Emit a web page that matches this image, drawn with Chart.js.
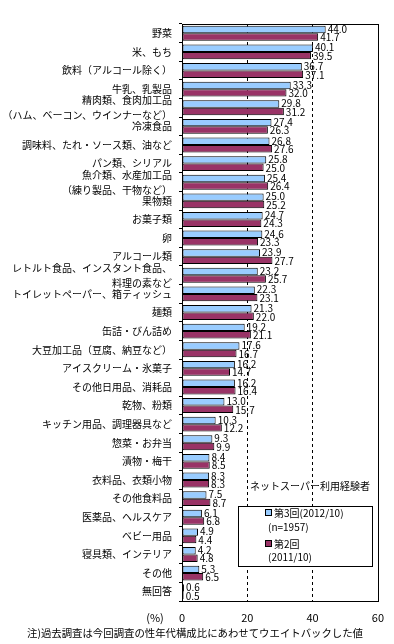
<!DOCTYPE html>
<html><head><meta charset="utf-8">
<script src="https://cdn.jsdelivr.net/npm/chart.js@4/dist/chart.umd.min.js"></script>
<style>html,body{margin:0;padding:0;background:#fff;}canvas{display:block;}</style>
</head><body>
<canvas id="c" width="394" height="644"></canvas>
<script>
const categories = [
  ['野菜'], ['米、もち'], ['飲料（アルコール除く）'], ['牛乳、乳製品'],
  ['精肉類、食肉加工品', '（ハム、ベーコン、ウインナーなど）'], ['冷凍食品'],
  ['調味料、たれ・ソース類、油など'], ['パン類、シリアル'],
  ['魚介類、水産加工品', '（練り製品、干物など）'], ['果物類'], ['お菓子類'], ['卵'],
  ['アルコール類'], ['レトルト食品、インスタント食品、', '料理の素など'],
  ['トイレットペーパー、箱ティッシュ'], ['麺類'], ['缶詰・びん詰め'],
  ['大豆加工品（豆腐、納豆など）'], ['アイスクリーム・氷菓子'], ['その他日用品、消耗品'],
  ['乾物、粉類'], ['キッチン用品、調理器具など'], ['惣菜・お弁当'], ['漬物・梅干'],
  ['衣料品、衣類小物'], ['その他食料品'], ['医薬品、ヘルスケア'], ['ベビー用品'],
  ['寝具類、インテリア'], ['その他'], ['無回答']
];
const series3 = [44.0, 40.1, 36.7, 33.3, 29.8, 27.4, 26.8, 25.8, 25.4, 25.0, 24.7, 24.6, 23.9, 23.2, 22.3, 21.3, 19.2, 17.6, 16.2, 16.2, 13.0, 10.3, 9.3, 8.4, 8.3, 7.5, 6.1, 4.9, 4.2, 5.3, 0.6];
const series2 = [41.7, 39.5, 37.1, 32.0, 31.2, 26.3, 27.6, 25.0, 26.4, 25.2, 24.3, 23.3, 27.7, 25.7, 23.1, 22.0, 21.1, 16.7, 14.7, 16.4, 15.7, 12.2, 9.9, 8.5, 8.3, 8.7, 6.8, 4.4, 4.8, 6.5, 0.5];
const seriesNames = ['第3回(2012/10)', '第2回(2011/10)'];
const legendLines = [['第3回(2012/10)', '(n=1957)'], ['第2回', '(2011/10)']];
const xTicks = [0, 20, 40, 60];
const legendTitle = 'ネットスーパー利用経験者';
const unitLabel = '(%)';
const footnote = '注)過去調査は今回調査の性年代構成比にあわせてウエイトバックした値';

const FONT = "'Noto Sans CJK JP', 'Noto Sans', sans-serif";
const BLUE = '#99CCFF', RED = '#993366';

const decor = {
  id: 'decor',
  afterDatasetsDraw(chart) {
    const ctx = chart.ctx;
    ctx.save();
    ctx.font = '10px ' + FONT;
    ctx.fillStyle = '#000';
    ctx.textAlign = 'left';
    ctx.textBaseline = 'middle';
    chart.data.datasets.forEach((ds, di) => {
      const meta = chart.getDatasetMeta(di);
      meta.data.forEach((el, i) => {
        ctx.fillText(ds.data[i].toFixed(1), el.x + 2, el.y + (di === 0 ? -0.5 : 0.5));
      });
    });
    const a = chart.chartArea;
    ctx.strokeStyle = '#000';
    ctx.lineWidth = 1;
    ctx.strokeRect(Math.round(a.left) + 0.5, Math.round(a.top) + 0.5, Math.round(a.right - a.left), Math.round(a.bottom - a.top));
    // legend title
    ctx.fillText(legendTitle, 250, 486);
    // legend box
    ctx.fillStyle = '#fff';
    ctx.fillRect(238.5, 506.5, 134, 60);
    ctx.strokeRect(238.5, 506.5, 134, 60);
    const colors = [BLUE, RED];
    const ys = [[513, 527], [544, 557]];
    legendLines.forEach((lines, k) => {
      ctx.fillStyle = colors[k];
      ctx.fillRect(265.5, ys[k][0] - 3.5, 6, 6);
      ctx.strokeStyle = '#000';
      ctx.strokeRect(265.5, ys[k][0] - 3.5, 6, 6);
      ctx.fillStyle = '#000';
      ctx.fillText(lines[0], 274, ys[k][0]);
      ctx.fillText(lines[1], 268, ys[k][1]);
    });
    // unit and footnote
    ctx.font = '11px ' + FONT;
    ctx.textAlign = 'center';
    ctx.fillText(unitLabel, 155, 618);
    ctx.font = '10.4px ' + FONT;
    ctx.textAlign = 'left';
    ctx.fillText(footnote, 27, 633);
    ctx.restore();
  }
};

new Chart(document.getElementById('c'), {
  type: 'bar',
  data: {
    labels: categories,
    datasets: [
      { label: seriesNames[0], data: series3, backgroundColor: BLUE, borderColor: '#000', borderWidth: 1, borderSkipped: false },
      { label: seriesNames[1], data: series2, backgroundColor: RED, borderColor: '#000', borderWidth: 1, borderSkipped: false }
    ]
  },
  options: {
    indexAxis: 'y',
    responsive: false,
    animation: false,
    devicePixelRatio: 1,
    layout: { padding: { left: 0, top: 24, right: 16, bottom: 17 } },
    datasets: { bar: { categoryPercentage: 0.8, barPercentage: 1.0 } },
    plugins: { legend: { display: false }, tooltip: { enabled: false } },
    scales: {
      x: {
        min: 0, max: 60,
        afterFit(s) { s.height = 26; },
        afterBuildTicks(s) { s.ticks = xTicks.map(v => ({ value: v })); },
        ticks: { color: '#000', font: { size: 11, family: FONT }, padding: 10, maxRotation: 0 },
        grid: {
          drawTicks: false,
          color: c => (c.tick && (c.tick.value === 20 || c.tick.value === 40)) ? '#000' : 'rgba(0,0,0,0)',
          lineWidth: 1
        },
        border: { display: false, dash: [3, 3] }
      },
      y: {
        afterFit(s) { s.width = 182; },
        ticks: { color: '#000', font: { size: 10, family: FONT, lineHeight: 1.5 }, padding: 7, autoSkip: false },
        grid: { drawOnChartArea: false, tickLength: 3, color: '#000' },
        border: { display: false }
      }
    }
  },
  plugins: [decor]
});
</script>
</body></html>
